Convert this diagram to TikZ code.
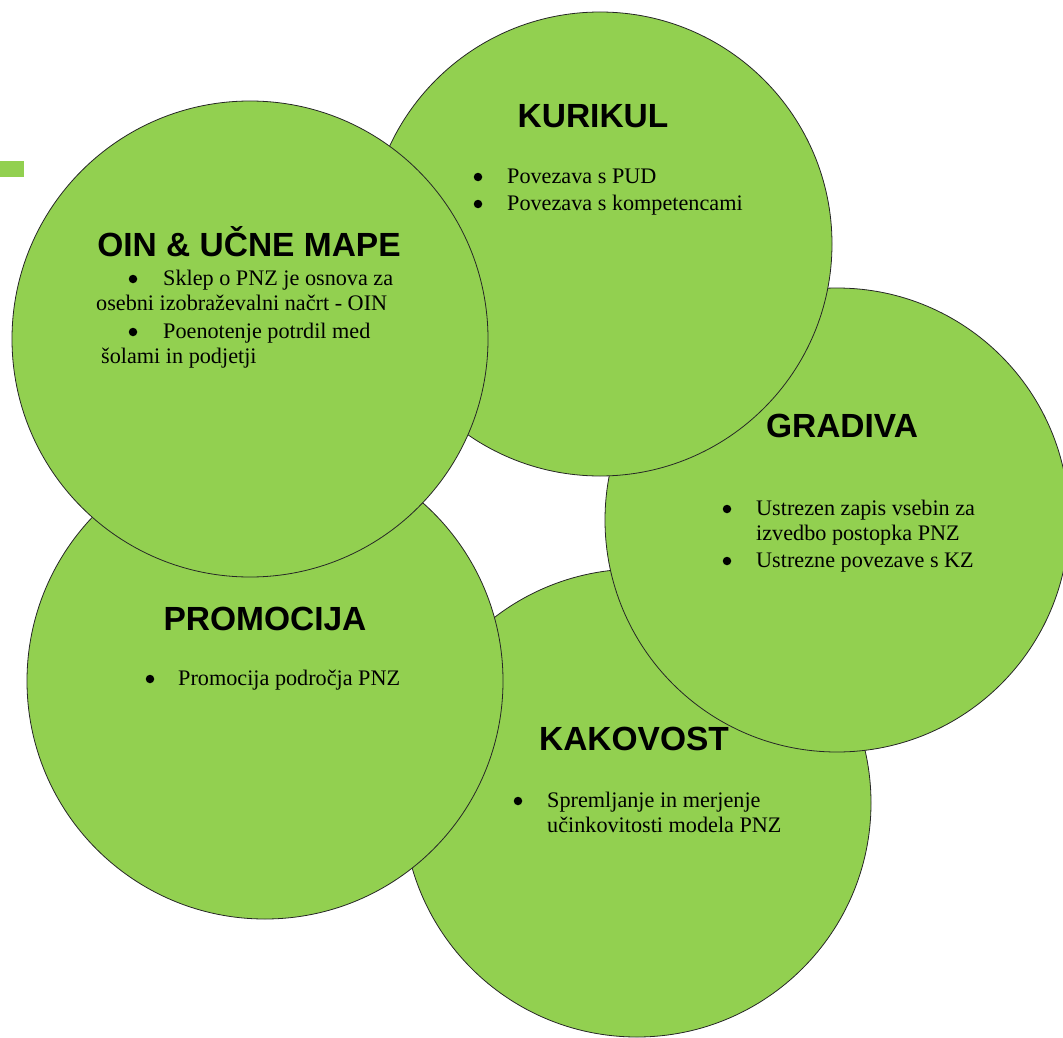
\documentclass[tikz,border=0pt]{standalone}
\usepackage{fontspec}
\setmainfont{Liberation Serif}
\newfontfamily\headfont{Liberation Sans}
\definecolor{bubgreen}{HTML}{92D050}
\begin{document}
\begin{tikzpicture}[x=1pt,y=-1pt,
  bub/.style={circle, draw=black!85, line width=0.8pt, fill=bubgreen, inner sep=0pt},
  ttl/.style={anchor=base, font=\headfont\bfseries\fontsize{33.5}{38}\selectfont, inner sep=0pt},
  txt/.style={anchor=base west, font=\fontsize{22.2}{26}\selectfont, inner sep=0pt},
  bul/.style={circle, fill=black, inner sep=0pt, minimum size=8.5pt}]
\useasboundingbox (0,0) rectangle (1063,1038);
\clip (0,0) rectangle (1063,1038);
% small green mark
\node[fill=bubgreen, inner sep=0pt, minimum width=24pt, minimum height=16pt, anchor=north west] (mark) at (0,161) {};
% circles (back to front)
\node[bub, minimum size=468pt] (kak) at (637,803) {};
\node[bub, minimum size=464pt] (grad) at (837,520) {};
\node[bub, minimum size=464pt] (kur) at (600,244) {};
\node[bub, minimum size=476pt] (prom) at (265,681) {};
\node[bub, minimum size=476pt] (oin) at (250,339) {};
% KURIKUL
\node[ttl] (kurT) at (593,128) {KURIKUL};
\node[bul] (kurB1) at (478,177) {};
\node[txt] (kurL1) at (507,183) {Povezava s PUD};
\node[bul] (kurB2) at (478,204) {};
\node[txt] (kurL2) at (507,210) {Povezava s kompetencami};
% OIN
\node[ttl] (oinT) at (249,256) {OIN \& UČNE MAPE};
\node[bul] (oinB1) at (133,279) {};
\node[txt] (oinL1) at (163,285) {Sklep o PNZ je osnova za};
\node[txt] (oinL2) at (96,310) {osebni izobraževalni načrt - OIN};
\node[bul] (oinB2) at (133,332) {};
\node[txt] (oinL3) at (163,338) {Poenotenje potrdil med};
\node[txt] (oinL4) at (101,363) {šolami in podjetji};
% GRADIVA
\node[ttl] (gradT) at (842,437) {GRADIVA};
\node[bul] (gradB1) at (727,509) {};
\node[txt] (gradL1) at (756,515) {Ustrezen zapis vsebin za};
\node[txt] (gradL2) at (756,540) {izvedbo postopka PNZ};
\node[bul] (gradB2) at (727,561) {};
\node[txt] (gradL3) at (756,567) {Ustrezne povezave s KZ};
% PROMOCIJA
\node[ttl] (promT) at (265,630) {PROMOCIJA};
\node[bul] (promB1) at (150,679) {};
\node[txt] (promL1) at (178,685) {Promocija področja PNZ};
% KAKOVOST
\node[ttl] (kakT) at (634,750) {KAKOVOST};
\node[bul] (kakB1) at (518,801) {};
\node[txt] (kakL1) at (547,807) {Spremljanje in merjenje};
\node[txt] (kakL2) at (547,832) {učinkovitosti modela PNZ};
\end{tikzpicture}
\end{document}
